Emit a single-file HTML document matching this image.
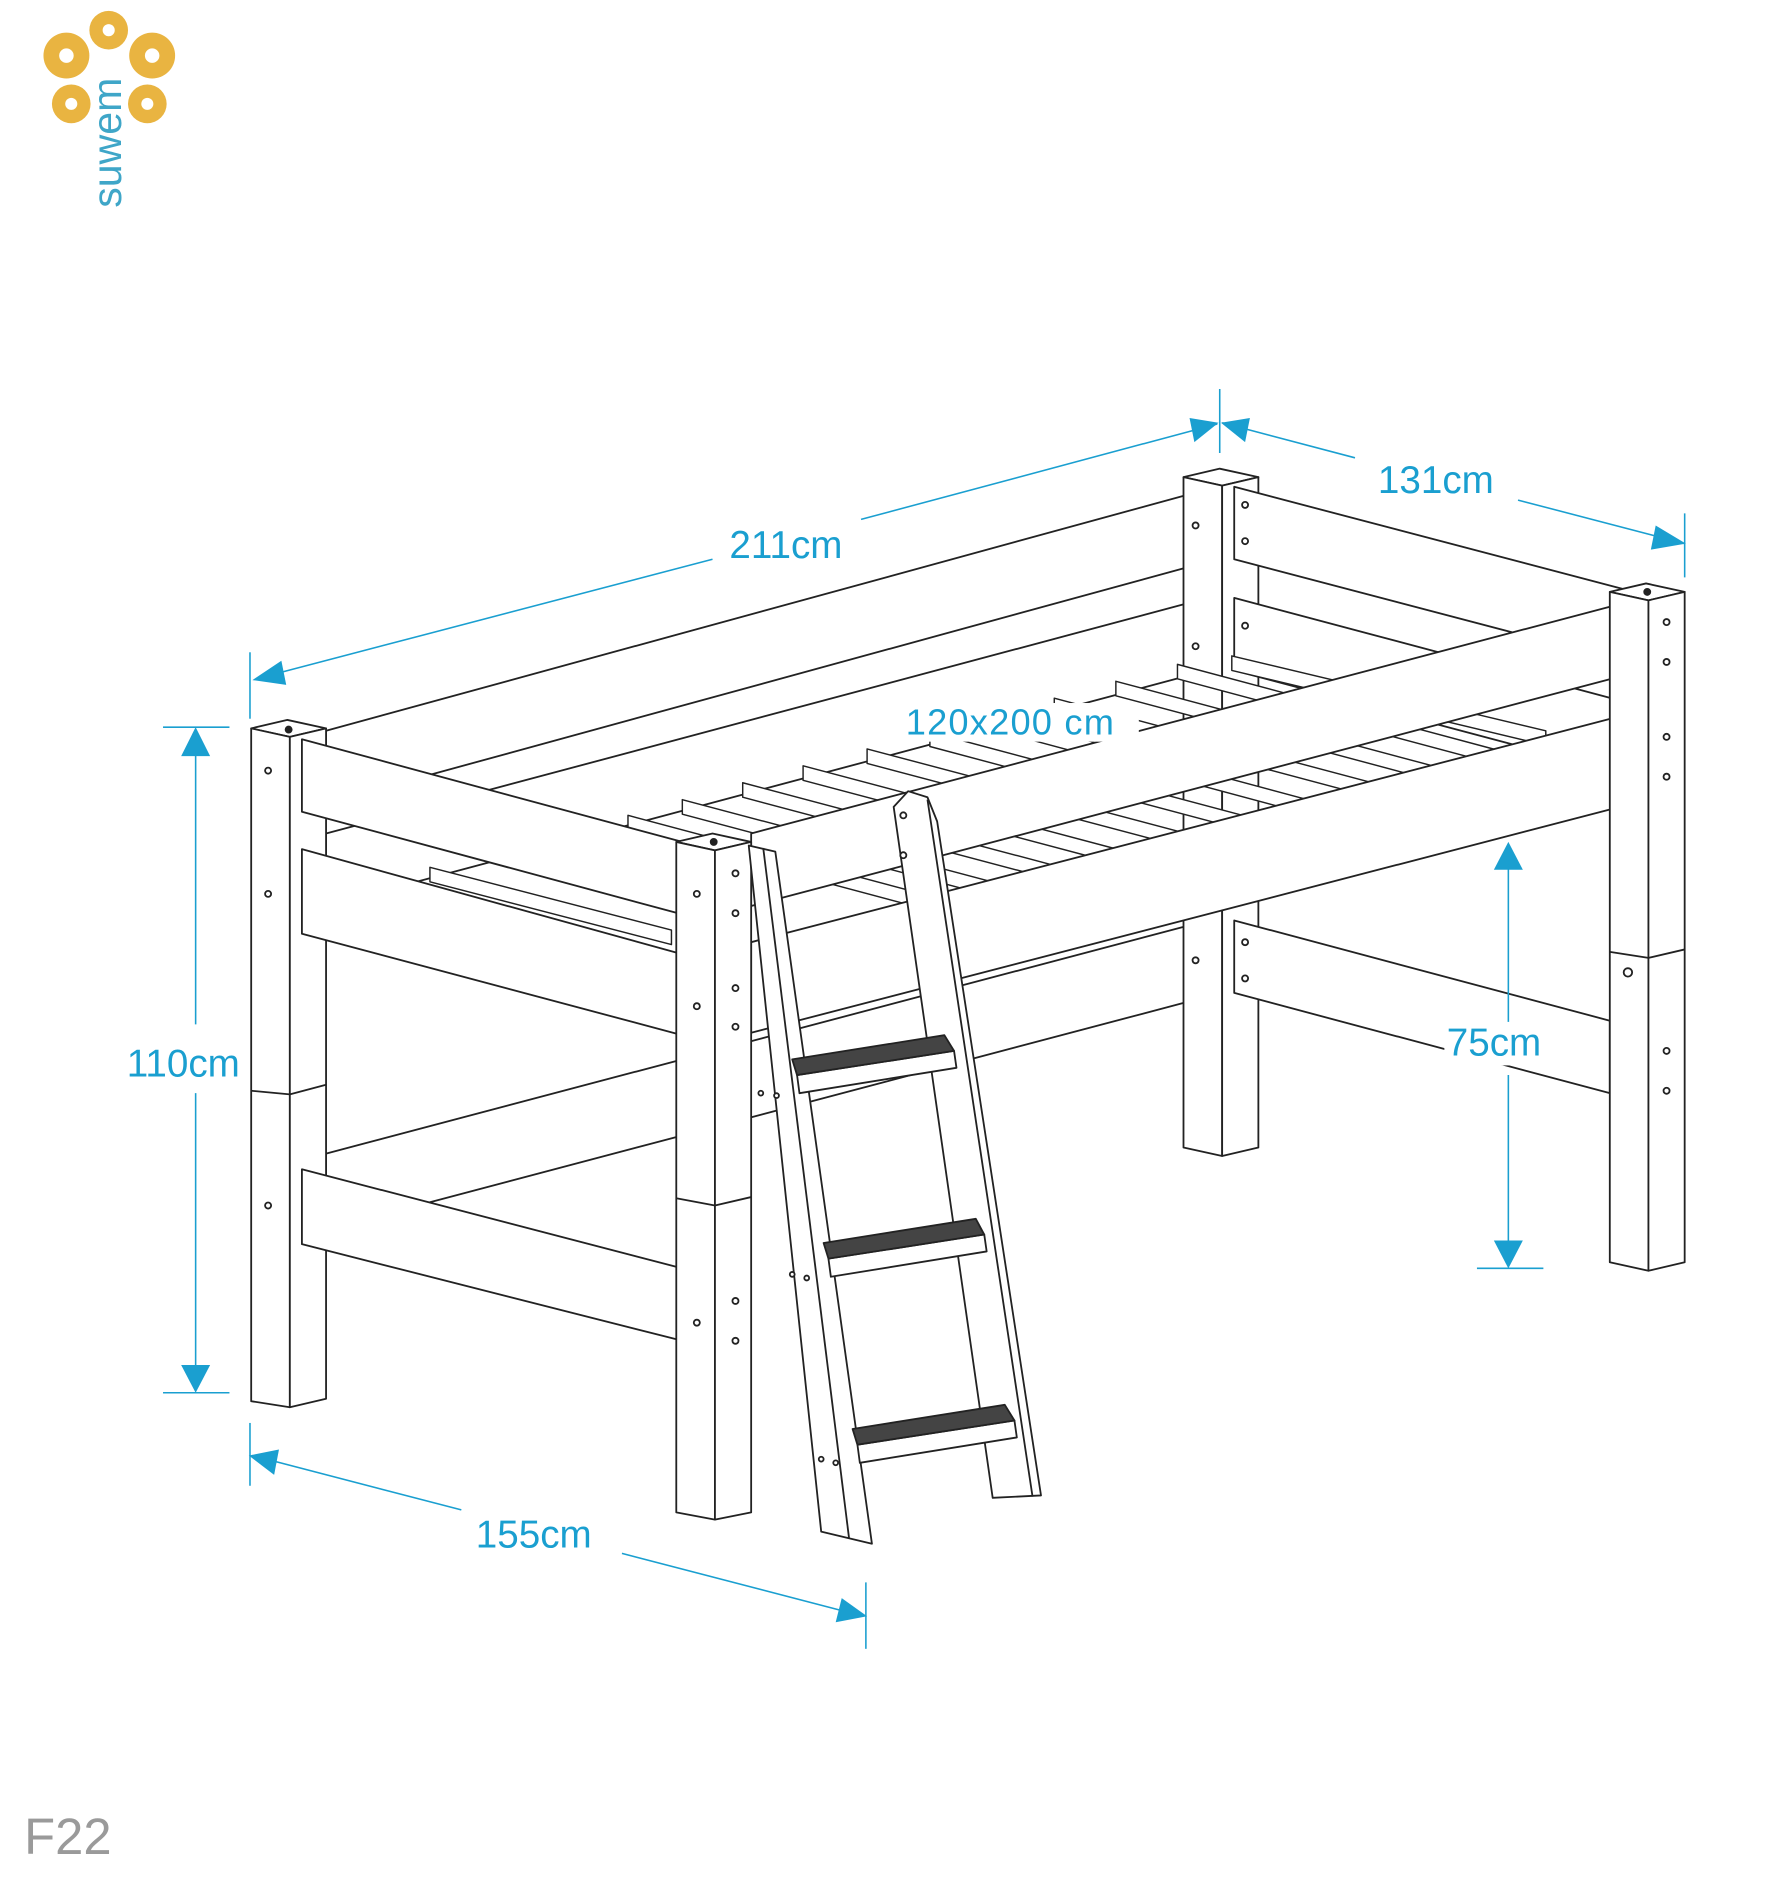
<!DOCTYPE html>
<html><head><meta charset="utf-8"><style>
html,body{margin:0;padding:0;background:#fff;}
svg{display:block;}
text{font-family:"Liberation Sans",sans-serif;}
</style></head><body>
<svg width="1768" height="1888" viewBox="0 0 1464 1563" preserveAspectRatio="none" xmlns="http://www.w3.org/2000/svg">
<!-- logo -->
<g fill="#E9B441">
<circle cx="55" cy="46" r="19"/><circle cx="90" cy="25" r="16"/><circle cx="126" cy="46" r="19"/>
<circle cx="59" cy="86" r="16"/><circle cx="122" cy="86" r="16"/>
</g>
<g fill="#fff"><circle cx="55" cy="46" r="6"/><circle cx="90" cy="25" r="5"/><circle cx="126" cy="46" r="6"/><circle cx="59" cy="86" r="5"/><circle cx="122" cy="86" r="5"/></g>
<text x="0" y="0" transform="translate(100,172) rotate(-90)" font-size="34" fill="#3FA6C8">suwem</text>

<g stroke="#222" stroke-width="1.5" fill="#fff" stroke-linejoin="round">
<!-- back long rails -->
<polygon points="270,605 1000,405 1000,465 270,665"/>
<polygon points="270,690 1000,495 1000,555 270,750"/>
<polygon points="270,955 1000,762 1000,825 270,1018"/>
<!-- back right post -->
<polygon points="980,395 1010,388 1042,395 1012,402"/>
<polygon points="980,395 1012,402 1012,957 980,950"/>
<polygon points="1012,402 1042,395 1042,950 1012,957"/>
<circle cx="990" cy="435" r="2.5"/><circle cx="990" cy="535" r="2.5"/><circle cx="990" cy="795" r="2.5"/>
<!-- right end rails -->
<polygon points="1022,403 1353,490 1353,550 1022,463"/>
<polygon points="1022,495 1353,583 1353,643 1022,555"/>
<polygon points="1022,762 1333,845 1333,905 1022,822"/>
<circle cx="1031" cy="418" r="2.5"/><circle cx="1031" cy="448" r="2.5"/><circle cx="1031" cy="518" r="2.5"/><circle cx="1031" cy="780" r="2.5"/><circle cx="1031" cy="810" r="2.5"/>
<!-- slats -->
<g stroke-width="1.2">
<polygon points="356,718 556,770 556,782 356,730"/>
<polygon points="520,675 790,747 790,759 520,687"/>
<polygon points="565,662 840,735 840,747 565,674"/>
<polygon points="615,648 890,721 890,733 615,660"/>
<polygon points="665,634 940,707 940,719 665,646"/>
<polygon points="718,620 990,692 990,704 718,632"/>
<polygon points="770,606 1040,678 1040,690 770,618"/>
<polygon points="822,592 1090,664 1090,676 822,604"/>
<polygon points="873,578 1140,649 1140,661 873,590"/>
<polygon points="924,564 1190,635 1190,647 924,576"/>
<polygon points="975,550 1240,621 1240,633 975,562"/>
<polygon points="1020,543 1280,605 1280,617 1020,555"/>
</g>
<!-- front long rails -->
<polygon points="622,690 1353,497 1353,557 622,750"/>
<polygon points="622,780 1353,590 1353,665 622,855"/>
<!-- front left post -->
<polygon points="208,603 238,596 270,603 240,610"/>
<polygon points="208,603 240,610 240,1165 208,1160"/>
<polygon points="240,610 270,603 270,1158 240,1165"/>
<line x1="208" y1="903" x2="240" y2="906"/><line x1="240" y1="906" x2="270" y2="898"/>
<circle cx="239" cy="604" r="2.5" fill="#222"/>
<circle cx="222" cy="638" r="2.5"/><circle cx="222" cy="740" r="2.5"/><circle cx="222" cy="998" r="2.5"/>
<!-- head end rails -->
<polygon points="250,612 565,697 565,757 250,672"/>
<polygon points="250,703 565,790 565,857 250,773"/>
<polygon points="250,968 565,1050 565,1110 250,1030"/>
<!-- front middle post -->
<polygon points="560,697 590,690 622,697 592,704"/>
<polygon points="560,697 592,704 592,1258 560,1252"/>
<polygon points="592,704 622,697 622,1252 592,1258"/>
<line x1="560" y1="992" x2="592" y2="998"/><line x1="592" y1="998" x2="622" y2="991"/>
<circle cx="591" cy="697" r="2.5" fill="#222"/>
<circle cx="577" cy="740" r="2.5"/><circle cx="577" cy="833" r="2.5"/><circle cx="577" cy="1095" r="2.5"/>
<circle cx="609" cy="723" r="2.5"/><circle cx="609" cy="756" r="2.5"/><circle cx="609" cy="818" r="2.5"/><circle cx="609" cy="850" r="2.5"/><circle cx="609" cy="1077" r="2.5"/><circle cx="609" cy="1110" r="2.5"/>
<!-- ladder -->
<polygon points="620,700 642,705 722,1278 680,1268"/>
<line x1="632" y1="702" x2="703" y2="1273"/>
<polygon points="740,668 752,655 768,660 776,680 862,1238 822,1240"/>
<line x1="768" y1="662" x2="855" y2="1239"/>
<polygon points="660,890 790,870 792,884 662,905"/>
<polygon points="656,877 782,857 790,870 660,890" fill="#444"/>
<polygon points="686,1042 815,1022 817,1036 688,1057"/>
<polygon points="682,1029 808,1009 815,1022 686,1042" fill="#444"/>
<polygon points="710,1196 840,1176 842,1190 712,1211"/>
<polygon points="706,1183 832,1163 840,1176 710,1196" fill="#444"/>
<circle cx="748" cy="675" r="2.5"/><circle cx="748" cy="708" r="2.5"/>
<circle cx="630" cy="905" r="2"/><circle cx="643" cy="907" r="2"/><circle cx="656" cy="1055" r="2"/><circle cx="668" cy="1058" r="2"/><circle cx="680" cy="1208" r="2"/><circle cx="692" cy="1211" r="2"/>
<!-- front right post -->
<polygon points="1333,490 1363,483 1395,490 1365,497"/>
<polygon points="1333,490 1365,497 1365,1052 1333,1045"/>
<polygon points="1365,497 1395,490 1395,1045 1365,1052"/>
<line x1="1333" y1="788" x2="1365" y2="793"/><line x1="1365" y1="793" x2="1395" y2="786"/>
<circle cx="1364" cy="490" r="2.5" fill="#222"/>
<circle cx="1380" cy="515" r="2.5"/><circle cx="1380" cy="548" r="2.5"/><circle cx="1380" cy="610" r="2.5"/><circle cx="1380" cy="643" r="2.5"/><circle cx="1348" cy="805" r="3.5"/><circle cx="1380" cy="870" r="2.5"/><circle cx="1380" cy="903" r="2.5"/>
</g>

<!-- dimensions -->
<rect x="1196" y="846" width="92" height="36" fill="#fff"/>
<g stroke="#1A9FD0" stroke-width="1.3" fill="none">
<line x1="207" y1="540" x2="207" y2="595"/><line x1="1010" y1="322" x2="1010" y2="375"/>
<line x1="212" y1="562" x2="590" y2="463"/><line x1="713" y1="430" x2="1008" y2="351"/>
<line x1="1012" y1="350" x2="1122" y2="379"/><line x1="1257" y1="414" x2="1395" y2="450"/>
<line x1="1395" y1="425" x2="1395" y2="478"/>
<line x1="135" y1="602" x2="190" y2="602"/><line x1="135" y1="1153" x2="190" y2="1153"/>
<line x1="162" y1="604" x2="162" y2="848"/><line x1="162" y1="905" x2="162" y2="1151"/>
<line x1="207" y1="1178" x2="207" y2="1230"/><line x1="717" y1="1310" x2="717" y2="1365"/>
<line x1="209" y1="1205" x2="382" y2="1250"/><line x1="515" y1="1286" x2="715" y2="1338"/>
<line x1="1223" y1="1050" x2="1278" y2="1050"/>
<line x1="1249" y1="699" x2="1249" y2="846"/><line x1="1249" y1="890" x2="1249" y2="1048"/>
</g>
<g fill="#1A9FD0">
<polygon points="209,563 233,547 237,567"/>
<polygon points="1009,350 985,346 989,366"/>
<polygon points="1011,350 1035,346 1031,366"/>
<polygon points="1396,450 1371,435 1367,455"/>
<polygon points="162,602 150,626 174,626"/>
<polygon points="162,1153 150,1130 174,1130"/>
<polygon points="206,1205 231,1200 227,1221"/>
<polygon points="718,1338 697,1323 692,1343"/>
<polygon points="1249,697 1237,720 1261,720"/>
<polygon points="1249,1050 1237,1027 1261,1027"/>
</g>
<g fill="#1A9FD0" font-size="32">
<text x="604" y="462">211cm</text>
<text x="1141" y="408">131cm</text>
<text x="105" y="891">110cm</text>
<text x="394" y="1281">155cm</text>
<text x="1198" y="874">75cm</text>
</g>
<rect x="748" y="582" width="195" height="32" fill="#fff"/>
<text x="750" y="608" font-size="30" fill="#1A9FD0" letter-spacing="1">120x200 cm</text>
<text x="20" y="1535" font-size="42" fill="#9a9a9a">F22</text>
</svg>
</body></html>
